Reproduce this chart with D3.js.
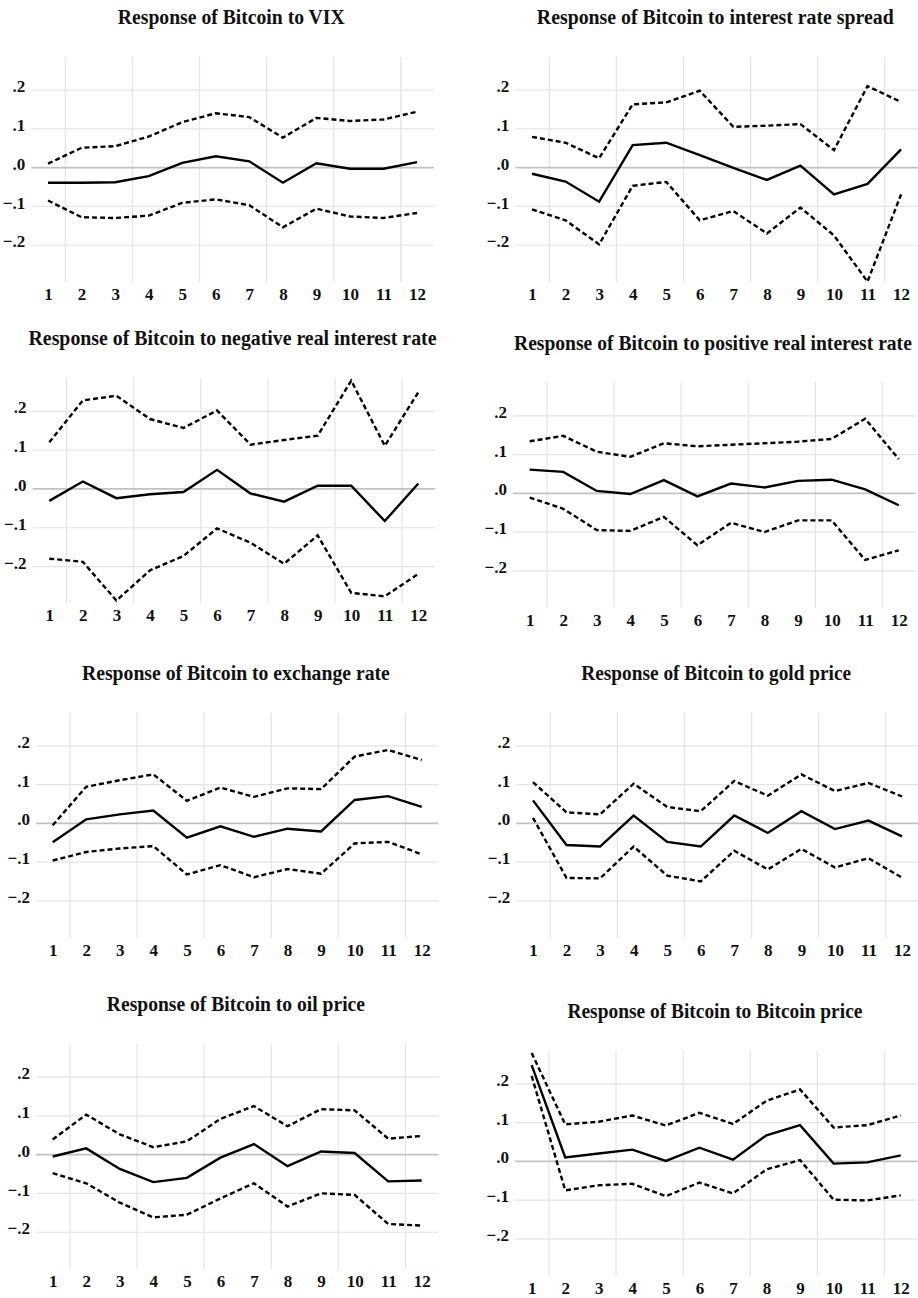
<!DOCTYPE html>
<html>
<head>
<meta charset="utf-8">
<script src="https://cdn.jsdelivr.net/npm/d3@7"></script>
<style>
  body { margin: 0; background: #fff; }
  svg { display: block; font-family: "Liberation Serif", "Times New Roman", serif; font-weight: bold; }
</style>
</head>
<body>
<svg id="svg"></svg>
<script>
const periods = [1, 2, 3, 4, 5, 6, 7, 8, 9, 10, 11, 12];
const yTicks = [-0.2, -0.1, 0, 0.1, 0.2];

const titles = [
  'Response of Bitcoin to VIX',
  'Response of Bitcoin to interest rate spread',
  'Response of Bitcoin to negative real interest rate',
  'Response of Bitcoin to positive real interest rate',
  'Response of Bitcoin to exchange rate',
  'Response of Bitcoin to gold price',
  'Response of Bitcoin to oil price',
  'Response of Bitcoin to Bitcoin price'
];

const vixResp  = [-0.040, -0.040, -0.039, -0.023, 0.011, 0.028, 0.015, -0.040, 0.010, -0.004, -0.004, 0.013];
const vixUpper = [0.009, 0.050, 0.054, 0.079, 0.116, 0.139, 0.129, 0.076, 0.127, 0.119, 0.123, 0.143];
const vixLower = [-0.086, -0.129, -0.131, -0.125, -0.092, -0.083, -0.098, -0.155, -0.107, -0.127, -0.131, -0.118];

const spreadResp  = [-0.017, -0.037, -0.089, 0.057, 0.063, 0.031, -0.002, -0.033, 0.004, -0.070, -0.043, 0.046];
const spreadUpper = [0.078, 0.063, 0.023, 0.162, 0.167, 0.197, 0.104, 0.107, 0.111, 0.044, 0.209, 0.168];
const spreadLower = [-0.109, -0.137, -0.199, -0.048, -0.038, -0.137, -0.113, -0.171, -0.104, -0.176, -0.295, -0.070];

const negRateResp  = [-0.032, 0.018, -0.025, -0.015, -0.009, 0.048, -0.013, -0.034, 0.007, 0.007, -0.084, 0.013];
const negRateUpper = [0.119, 0.227, 0.239, 0.179, 0.156, 0.201, 0.113, 0.125, 0.136, 0.278, 0.110, 0.248];
const negRateLower = [-0.181, -0.189, -0.289, -0.211, -0.174, -0.103, -0.140, -0.194, -0.121, -0.269, -0.278, -0.220];

const posRateResp  = [0.060, 0.054, 0.005, -0.003, 0.033, -0.009, 0.024, 0.014, 0.031, 0.034, 0.009, -0.032];
const posRateUpper = [0.133, 0.147, 0.106, 0.093, 0.128, 0.120, 0.124, 0.128, 0.132, 0.139, 0.191, 0.087];
const posRateLower = [-0.012, -0.041, -0.096, -0.098, -0.062, -0.135, -0.077, -0.101, -0.071, -0.071, -0.173, -0.148];

const fxResp  = [-0.050, 0.009, 0.022, 0.032, -0.038, -0.009, -0.036, -0.015, -0.022, 0.059, 0.069, 0.041];
const fxUpper = [-0.006, 0.093, 0.110, 0.125, 0.057, 0.091, 0.067, 0.089, 0.087, 0.171, 0.188, 0.162];
const fxLower = [-0.097, -0.075, -0.066, -0.060, -0.133, -0.109, -0.140, -0.119, -0.131, -0.053, -0.049, -0.081];

const goldResp  = [0.058, -0.057, -0.061, 0.019, -0.049, -0.061, 0.019, -0.026, 0.030, -0.016, 0.006, -0.035];
const goldUpper = [0.105, 0.027, 0.022, 0.101, 0.041, 0.030, 0.108, 0.070, 0.125, 0.082, 0.103, 0.068];
const goldLower = [0.013, -0.142, -0.143, -0.061, -0.136, -0.151, -0.072, -0.120, -0.067, -0.115, -0.091, -0.141];

const oilResp  = [-0.006, 0.015, -0.038, -0.072, -0.061, -0.009, 0.026, -0.031, 0.007, 0.003, -0.070, -0.068];
const oilUpper = [0.038, 0.102, 0.051, 0.018, 0.033, 0.091, 0.124, 0.072, 0.116, 0.113, 0.040, 0.047];
const oilLower = [-0.049, -0.075, -0.125, -0.163, -0.156, -0.114, -0.075, -0.135, -0.101, -0.105, -0.180, -0.184];

const btcResp  = [0.247, 0.009, 0.019, 0.029, 0.000, 0.034, 0.003, 0.066, 0.092, -0.007, -0.004, 0.014];
const btcUpper = [0.278, 0.094, 0.101, 0.117, 0.091, 0.124, 0.095, 0.155, 0.184, 0.086, 0.092, 0.117];
const btcLower = [0.219, -0.076, -0.063, -0.059, -0.091, -0.056, -0.084, -0.022, 0.002, -0.100, -0.102, -0.089];

const panels = [
  [vixResp, vixUpper, vixLower],
  [spreadResp, spreadUpper, spreadLower],
  [negRateResp, negRateUpper, negRateLower],
  [posRateResp, posRateUpper, posRateLower],
  [fxResp, fxUpper, fxLower],
  [goldResp, goldUpper, goldLower],
  [oilResp, oilUpper, oilLower],
  [btcResp, btcUpper, btcLower]
].map((d, i) => ({ title: titles[i], resp: d[0], upper: d[1], lower: d[2] }));

// layout (top-left of each plot area, in page pixels)
const panelPos = [[31.25, 57], [515.25, 57], [32.5, 378.3], [512.9, 382.7],
                  [35.9, 712.7], [516.2, 712.7], [35.9, 1044], [514.9, 1050.7]];
const titleWidths = [227, 357, 408, 398, 308, 270, 258, 295];
const panelW = 402.6, panelH = 225;

const svg = d3.select('#svg').attr('width', 918).attr('height', 1298);
svg.append('rect').attr('width', 918).attr('height', 1298).attr('fill', '#fff');

const x = d3.scaleLinear().domain([0.5, 12.5]).range([0, panelW]);
const y = d3.scaleLinear().domain([-0.296, 0.284]).range([panelH, 0]);
const fmt = v => d3.format('.1f')(v).replace('0.', '.');

const line = d3.line()
  .x((d, i) => x(periods[i]))
  .y(d => y(d));

panels.forEach((p, i) => {
  const g = svg.append('g')
    .attr('transform', `translate(${panelPos[i][0]},${panelPos[i][1]})`);

  // titles in the source are tall and narrow: squeeze horizontally to the read width
  const title = g.append('text')
    .attr('text-anchor', 'middle')
    .attr('font-size', 21)
    .attr('fill', '#111')
    .text(p.title);
  const natural = title.node().getComputedTextLength();
  title.attr('transform', `translate(200,-33) scale(${titleWidths[i] / natural},1)`);

  // vertical grid between every second period
  g.append('g')
    .attr('transform', `translate(0,${panelH})`)
    .call(d3.axisBottom(x).tickValues([1.5, 3.5, 5.5, 7.5, 9.5, 11.5]).tickSize(-panelH).tickFormat(''))
    .call(a => a.select('.domain').remove())
    .call(a => a.selectAll('line').attr('stroke', '#e4e4e4').attr('stroke-width', 1.2));

  // horizontal grid
  g.append('g')
    .call(d3.axisLeft(y).tickValues(yTicks).tickSize(-panelW).tickFormat(''))
    .call(a => a.select('.domain').remove())
    .call(a => a.selectAll('line')
      .attr('stroke', d => d === 0 ? '#c2c2c2' : '#e4e4e4')
      .attr('stroke-width', d => d === 0 ? 1.8 : 1.2));

  // y labels
  g.append('g')
    .call(d3.axisLeft(y).tickValues(yTicks).tickSize(0).tickPadding(6).tickFormat(fmt))
    .call(a => a.select('.domain').remove())
    .call(a => a.selectAll('text')
      .attr('dy', '0.12em')
      .attr('font-size', 17)
      .attr('font-family', '"Liberation Serif", serif')
      .attr('font-weight', 'bold')
      .attr('fill', '#111'));

  // x labels
  g.append('g')
    .attr('transform', `translate(0,${panelH})`)
    .call(d3.axisBottom(x).tickValues(periods).tickSize(0).tickPadding(6).tickFormat(d3.format('d')))
    .call(a => a.select('.domain').remove())
    .call(a => a.selectAll('text')
      .attr('font-size', 17)
      .attr('font-family', '"Liberation Serif", serif')
      .attr('font-weight', 'bold')
      .attr('fill', '#111'));

  [p.upper, p.lower].forEach(band => {
    g.append('path')
      .attr('d', line(band))
      .attr('fill', 'none')
      .attr('stroke', '#000')
      .attr('stroke-width', 2.4)
      .attr('stroke-dasharray', '5,3');
  });

  g.append('path')
    .attr('d', line(p.resp))
    .attr('fill', 'none')
    .attr('stroke', '#000')
    .attr('stroke-width', 2.4);
});
</script>
</body>
</html>
